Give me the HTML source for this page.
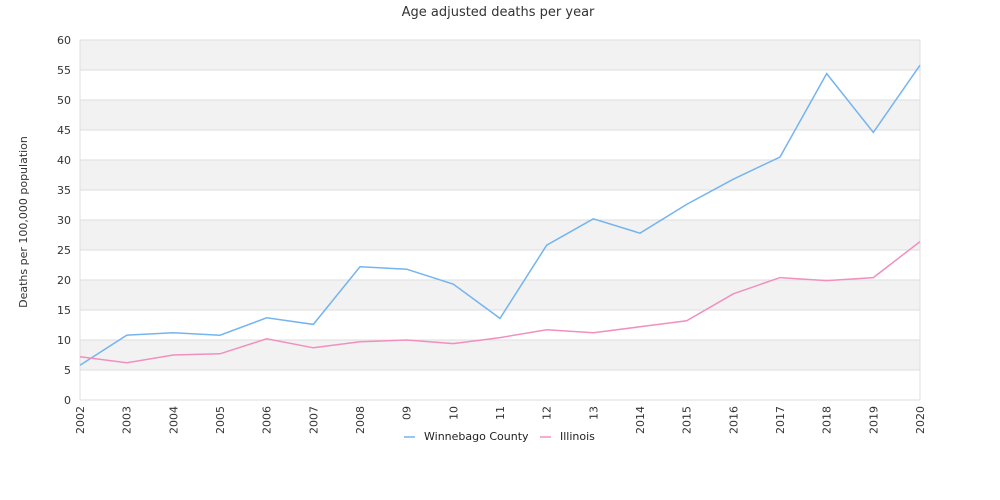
<!DOCTYPE html>
<html><head><meta charset="utf-8"><style>
body{margin:0;background:#fff;font-family:"DejaVu Sans","Liberation Sans",sans-serif;}
</style></head><body>
<svg width="1000" height="500" style="display:block">
<text x="498" y="16" text-anchor="middle" font-size="13" fill="#333">Age adjusted deaths per year</text>
<g id="bands"></g><g id="grid"></g><g id="yt"></g><g id="xt"></g><g id="lines"></g>
<text transform="translate(27,222) rotate(-90)" text-anchor="middle" font-size="11" fill="#333">Deaths per 100,000 population</text>
<g>
<line x1="404" y1="437" x2="415" y2="437" stroke="#74b4ef" stroke-width="1.5"/>
<text x="424" y="440" font-size="11" fill="#222">Winnebago County</text>
<line x1="540" y1="437" x2="551" y2="437" stroke="#f28fc0" stroke-width="1.5"/>
<text x="560" y="440" font-size="11" fill="#222">Illinois</text>
</g>
</svg>
<script>
const categories=["2002","2003","2004","2005","2006","2007","2008","09","10","11","12","13","2014","2015","2016","2017","2018","2019","2020"];
const winnebago=[5.8,10.8,11.2,10.8,13.7,12.6,22.2,21.8,19.3,13.6,25.8,30.2,27.8,32.6,36.8,40.5,54.4,44.6,55.8];
const illinois=[7.2,6.2,7.5,7.7,10.2,8.7,9.7,10.0,9.4,10.4,11.7,11.2,12.2,13.2,17.7,20.4,19.9,20.4,26.4];
const yTicks=[0,5,10,15,20,25,30,35,40,45,50,55,60];
const L=80,R=920,T=40,B=400,NS="http://www.w3.org/2000/svg";
const x=i=>L+i*(R-L)/(categories.length-1);
const y=v=>B-(v/60)*(B-T);
function mk(p,t,a){const e=document.createElementNS(NS,t);for(const k in a)e.setAttribute(k,a[k]);document.getElementById(p).appendChild(e);return e;}
for(let i=0;i<yTicks.length-1;i++){
 if(i%2==1){const r=mk('bands','rect',{x:L,y:y(yTicks[i+1]),width:R-L,height:y(yTicks[i])-y(yTicks[i+1]),fill:'#f2f2f2'});
 
 }
}
yTicks.forEach(v=>{
 const g=mk('grid','line',{x1:L,x2:R,y1:y(v),y2:y(v),stroke:'#ddd'});
 
 
 const t=mk('yt','text',{x:71,y:y(v)+4,'text-anchor':'end','font-size':11,fill:'#333'});t.textContent=v;
 
 
});
mk('grid','line',{x1:L,x2:L,y1:T,y2:B,stroke:'#ddd'});
mk('grid','line',{x1:R,x2:R,y1:T,y2:B,stroke:'#ddd'});
categories.forEach((c,i)=>{
 const t=mk('xt','text',{transform:`translate(${x(i)+4},406) rotate(-90)`,'text-anchor':'end','font-size':11,fill:'#333'});t.textContent=c;
 
 
});
function line(d,col,name){
 const p=mk('lines','polyline',{points:d.map((v,i)=>x(i)+','+y(v)).join(' '),fill:'none',stroke:col,'stroke-width':1.5});
 
 
}
line(winnebago,'#74b4ef','winnebago-line');
line(illinois,'#f28fc0','illinois-line');
</script>
</body></html>
